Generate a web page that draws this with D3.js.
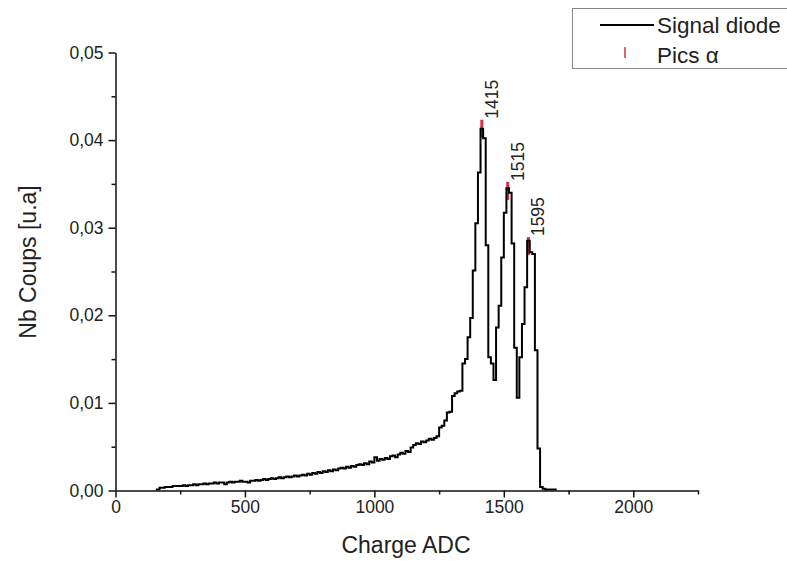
<!DOCTYPE html>
<html>
<head>
<meta charset="utf-8">
<script src="https://cdn.jsdelivr.net/npm/d3@7"></script>
<style>
  html, body { margin: 0; padding: 0; background: #fff; }
  svg { display: block; }
  text { font-family: "Liberation Sans", Arial, sans-serif; fill: #222; }
</style>
</head>
<body>
<svg id="chart" width="787" height="561"></svg>
<script>
// ---- Data ----
const binStart = 160;     // ADC channel of first bin's left edge
const binWidth = 10;      // ADC channels per bin
const counts = [
  0.0001, 0.0003, 0.0003, 0.0004, 0.0004, 0.0004, 0.0005, 0.0005, 0.0005, 0.0005, // 160-250
  0.0006, 0.0005, 0.0006, 0.0006, 0.0007, 0.0006, 0.0007, 0.0007, 0.0008, 0.0007, // 260-350
  0.0008, 0.0008, 0.0009, 0.0008, 0.0009, 0.0009, 0.0007, 0.0009, 0.0010, 0.0009, // 360-450
  0.0010, 0.0010, 0.0011, 0.0010, 0.0010, 0.0009, 0.0011, 0.0011, 0.0012, 0.0011, // 460-550
  0.0012, 0.0013, 0.0012, 0.0013, 0.0014, 0.0013, 0.0014, 0.0015, 0.0014, 0.0015, // 560-650
  0.0016, 0.0015, 0.0016, 0.0017, 0.0016, 0.0017, 0.0018, 0.0017, 0.0019, 0.0018, // 660-750
  0.0020, 0.0019, 0.0021, 0.0020, 0.0022, 0.0021, 0.0023, 0.0022, 0.0024, 0.0023, // 760-850
  0.0025, 0.0026, 0.0025, 0.0027, 0.0026, 0.0028, 0.0027, 0.0029, 0.0030, 0.0029, // 860-950
  0.0031, 0.0030, 0.0033, 0.0032, 0.0038, 0.0034, 0.0036, 0.0035, 0.0037, 0.0036, // 960-1050
  0.0039, 0.0040, 0.0038, 0.0041, 0.0043, 0.0042, 0.0045, 0.0044, 0.0049, 0.0052, // 1060-1150
  0.0054, 0.0053, 0.0056, 0.0055, 0.0057, 0.0059, 0.0058, 0.0060, 0.0062, 0.0072, // 1160-1250
  0.0074, 0.0080, 0.0089, 0.0090, 0.0108, 0.0111, 0.0113, 0.0114, 0.0145, 0.0150, // 1260-1350
  0.0175, 0.0197, 0.0251, 0.0305, 0.0363, 0.0413, 0.0402, 0.0280, 0.0152, 0.0145, // 1360-1450
  0.0126, 0.0186, 0.0211, 0.0266, 0.0317, 0.0345, 0.0340, 0.0282, 0.0163, 0.0106, // 1460-1550
  0.0152, 0.0190, 0.0232, 0.0285, 0.0272, 0.0270, 0.0160, 0.0048, 0.0004, 0.0002, // 1560-1650
  0.0001, 0.0001, 0.0001, 0.0001                                                  // 1660-1690
];
const peakPositions = [1415, 1515, 1595];
const peakValues = [0.0413, 0.0342, 0.0279];
const peakLabels = ["1415", "1515", "1595"];

const xTicks = [0, 500, 1000, 1500, 2000];
const xTickLabels = ["0", "500", "1000", "1500", "2000"];
const xMinorTicks = [250, 750, 1250, 1750, 2250];
const yTicks = [0, 0.01, 0.02, 0.03, 0.04, 0.05];
const yTickLabels = ["0,00", "0,01", "0,02", "0,03", "0,04", "0,05"];
const yMinorTicks = [0.005, 0.015, 0.025, 0.035, 0.045];

const xTitle = "Charge ADC";
const yTitle = "Nb Coups [u.a]";
const legendLabels = ["Signal diode", "Pics \u03B1"];

// ---- Layout ----
const svg = d3.select("#chart");
const x = d3.scaleLinear().domain([0, 2250]).range([115.5, 698]);
const y = d3.scaleLinear().domain([0, 0.05]).range([490.5, 52.5]);
const markerColor = "#cc3344";
const tickFont = 17.5;

// histogram step points
const pts = [[binStart, 0]];
counts.forEach((v, i) => pts.push([binStart + i * binWidth, v]));
pts.push([binStart + counts.length * binWidth, 0]);

// peak markers (beneath the line)
const mk = svg.append("g");
peakPositions.forEach((p, i) => {
  mk.append("line")
    .attr("x1", x(p)).attr("x2", x(p))
    .attr("y1", y(peakValues[i]) - 9).attr("y2", y(peakValues[i]) + 9)
    .attr("stroke", markerColor).attr("stroke-width", 3);
});

const line = d3.line().x(d => x(d[0])).y(d => y(d[1])).curve(d3.curveStepAfter);
svg.append("path").datum(pts)
  .attr("d", line)
  .attr("fill", "none").attr("stroke", "#000").attr("stroke-width", 2)
  .attr("stroke-linejoin", "miter");

// peak labels
peakPositions.forEach((p, i) => {
  const tx = x(p) + 16, ty = y(peakValues[i]) - 10;
  svg.append("text")
    .attr("transform", `translate(${tx},${ty}) rotate(-90)`)
    .attr("text-anchor", "start")
    .attr("font-size", tickFont)
    .text(peakLabels[i]);
});

// axes
svg.append("g").attr("transform", `translate(0,${y(0)})`)
  .call(d3.axisBottom(x).tickValues(xTicks).tickFormat((d, i) => xTickLabels[i])
    .tickSizeOuter(0).tickSizeInner(7).tickPadding(3));
svg.append("g").attr("transform", `translate(0,${y(0)})`)
  .call(d3.axisBottom(x).tickValues(xMinorTicks).tickFormat("").tickSizeOuter(0).tickSizeInner(4))
  .select(".domain").remove();
svg.append("g").attr("transform", `translate(${x(0)},0)`)
  .call(d3.axisLeft(y).tickValues(yTicks).tickFormat((d, i) => yTickLabels[i])
    .tickSizeOuter(0).tickSizeInner(7).tickPadding(5));
svg.append("g").attr("transform", `translate(${x(0)},0)`)
  .call(d3.axisLeft(y).tickValues(yMinorTicks).tickFormat("").tickSizeOuter(0).tickSizeInner(4))
  .select(".domain").remove();

svg.selectAll(".domain").attr("stroke", "#111").attr("stroke-width", 1.5);
svg.selectAll(".tick line").attr("stroke", "#111").attr("stroke-width", 1.5);
svg.selectAll(".tick text").attr("font-size", tickFont).attr("fill", "#222")
  .attr("font-family", "Liberation Sans, Arial, sans-serif");

// axis titles
svg.append("text").attr("x", 406).attr("y", 553).attr("text-anchor", "middle")
  .attr("font-size", 23).text(xTitle);
svg.append("text").attr("transform", `translate(36,262) rotate(-90)`)
  .attr("text-anchor", "middle").attr("font-size", 23).text(yTitle);

// legend
const lg = svg.append("g");
lg.append("rect").attr("x", 572.5).attr("y", 8.5).attr("width", 230).attr("height", 60)
  .attr("fill", "#fff").attr("stroke", "#888").attr("stroke-width", 1);
lg.append("line").attr("x1", 600).attr("x2", 654).attr("y1", 25).attr("y2", 25)
  .attr("stroke", "#000").attr("stroke-width", 2);
lg.append("text").attr("x", 657).attr("y", 33).attr("font-size", 22.5).text(legendLabels[0]);
lg.append("line").attr("x1", 625).attr("x2", 625).attr("y1", 47).attr("y2", 58)
  .attr("stroke", markerColor).attr("stroke-width", 1.5);
lg.append("text").attr("x", 657).attr("y", 63).attr("font-size", 22.5).text(legendLabels[1]);
</script>
</body>
</html>
